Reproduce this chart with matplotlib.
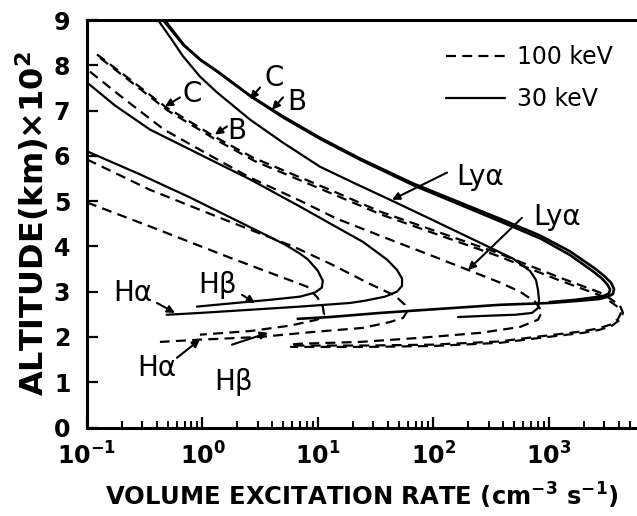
import matplotlib
matplotlib.use("Agg")
import matplotlib.pyplot as plt
from matplotlib.lines import Line2D
from matplotlib.ticker import LogLocator, LogFormatterMathtext, FixedLocator, NullFormatter

plt.rcParams['font.family'] = ['DejaVu Sans']
plt.rcParams['mathtext.default'] = 'regular'

# ---- 30 keV profiles (solid): volume excitation rate (cm^-3 s^-1) vs altitude (x100 km)
c30_rate = [0.455, 0.556, 0.678, 0.951, 1.337, 2.58, 4.98, 10.4, 23.1, 66.5, 169, 377, 836,
            1520, 2502, 2994, 3443, 3654, 3581, 3243, 2766, 1855, 1021, 377, 114, 34.4,
            12.7, 6.71]
c30_alt = [9.0, 8.73, 8.46, 8.13, 7.87, 7.33, 6.87, 6.40, 5.94, 5.39, 4.97, 4.61, 4.24,
           3.89, 3.51, 3.35, 3.20, 3.06, 2.95, 2.89, 2.84, 2.80, 2.75, 2.71, 2.62, 2.53,
           2.44, 2.40]

b30_rate = [0.47, 0.575, 0.70, 0.98, 1.38, 2.66, 5.13, 10.7, 23.8, 68.5, 174, 388, 850,
            1520, 2400, 2850, 3200, 3380, 3300, 3000, 2400, 1700, 1021]
b30_alt = [9.0, 8.71, 8.43, 8.10, 7.84, 7.30, 6.83, 6.36, 5.90, 5.34, 4.91, 4.54, 4.17,
           3.81, 3.45, 3.30, 3.16, 3.05, 2.96, 2.91, 2.87, 2.82, 2.77]

lya30_rate = [0.412, 0.524, 0.678, 0.951, 1.337, 2.58, 4.98, 10.4, 20.9, 42.0, 93.3, 253,
              488, 684, 771, 803, 819, 803, 713, 508, 308, 163]
lya30_alt = [9.0, 8.62, 8.20, 7.75, 7.40, 6.80, 6.29, 5.76, 5.39, 5.03, 4.61, 4.08, 3.73,
             3.46, 3.26, 3.04, 2.82, 2.64, 2.53, 2.49, 2.47, 2.44]

ha30_rate = [0.1, 0.175, 0.351, 0.951, 2.58, 6.98, 14.6, 24.5, 39.5, 48.3, 53.4, 53.4,
             48.3, 38.0, 25.5, 18.9, 6.98, 2.58, 0.95, 0.49]
ha30_alt = [7.62, 7.11, 6.58, 6.03, 5.48, 4.88, 4.42, 4.10, 3.71, 3.48, 3.29, 3.13, 3.00,
            2.89, 2.80, 2.75, 2.67, 2.60, 2.53, 2.49]

hb30_rate = [0.1, 0.288, 0.78, 1.84, 3.48, 5.18, 6.98, 8.19, 9.98, 11.0, 10.8, 9.42, 6.98,
             3.84, 2.58, 0.895]
hb30_alt = [6.10, 5.59, 5.08, 4.61, 4.26, 4.04, 3.84, 3.71, 3.46, 3.24, 3.09, 2.98, 2.89,
            2.82, 2.78, 2.67]

# ---- 100 keV profiles (dashed)
c100_rate = [0.122, 0.235, 0.473, 1.26, 2.74, 13.8, 34.4, 355, 1244, 2766, 3510, 4120,
             4375, 4120, 3510, 2766, 1969, 836, 377, 99, 26.5, 5.73]
c100_alt = [8.24, 7.69, 7.09, 6.43, 5.96, 5.21, 4.77, 3.86, 3.31, 2.98, 2.82, 2.69, 2.53,
            2.38, 2.25, 2.16, 2.09, 1.98, 1.87, 1.80, 1.78, 1.78]

b100_rate = [0.13, 0.25, 0.50, 1.32, 2.85, 14.2, 35.5, 360, 1230, 2700, 3400, 3950, 4180,
             3950, 3380, 2700, 1900, 820, 370, 98, 26, 6.2]
b100_alt = [8.16, 7.60, 7.00, 6.35, 5.88, 5.13, 4.70, 3.79, 3.25, 2.93, 2.78, 2.66, 2.52,
            2.39, 2.27, 2.19, 2.12, 2.01, 1.90, 1.83, 1.81, 1.81]

lya100_rate = [0.106, 0.193, 0.464, 1.16, 2.58, 6.98, 14.6, 42.0, 107, 199, 377, 561, 757,
               871, 803, 561, 253, 76.4, 23.1, 6.98, 5.73]
lya100_alt = [7.86, 7.33, 6.58, 6.01, 5.52, 5.01, 4.61, 4.15, 3.75, 3.48, 3.20, 3.00, 2.78,
              2.56, 2.38, 2.22, 2.09, 1.98, 1.89, 1.85, 1.83]

ha100_rate = [0.1, 0.351, 1.42, 6.2, 12.7, 28.2, 46.5, 56.6, 59, 54.5, 42, 24.5, 9.06,
              3.15, 0.95, 0.428]
ha100_alt = [5.92, 5.25, 4.63, 3.99, 3.62, 3.17, 2.91, 2.71, 2.56, 2.42, 2.33, 2.20, 2.11,
             2.00, 1.94, 1.89]

hb100_rate = [0.1, 0.351, 1.73, 8.04, 9.9, 11.0, 11.3, 9.8, 5.73, 2.58, 0.95]
hb100_alt = [4.97, 4.44, 3.75, 3.11, 2.87, 2.67, 2.49, 2.38, 2.25, 2.13, 2.05]

# ---- axis settings
x_min, x_max = 0.1, 5780
y_min, y_max = 0, 9
x_major = [0.1, 1, 10, 100, 1000]
y_major = [0, 1, 2, 3, 4, 5, 6, 7, 8, 9]

fig = plt.figure(figsize=(6.37, 5.16), dpi=100)
ax = fig.add_axes([87 / 637, 1 - 427.5 / 516, 1 - 87 / 637, (427.5 - 20) / 516])

solid_kw = dict(color='black', lw=1.6, solid_capstyle='round', solid_joinstyle='round')
dash_kw = dict(color='black', lw=1.6, linestyle=(0, (4.5, 2.8)))

ax.plot(c30_rate, c30_alt, color='black', lw=1.9, solid_joinstyle='round')
ax.plot(b30_rate, b30_alt, color='black', lw=1.9, solid_joinstyle='round')
ax.plot(lya30_rate, lya30_alt, **solid_kw)
ax.plot(ha30_rate, ha30_alt, **solid_kw)
ax.plot(hb30_rate, hb30_alt, **solid_kw)

ax.plot(c100_rate, c100_alt, **dash_kw)
ax.plot(b100_rate, b100_alt, **dash_kw)
ax.plot(lya100_rate, lya100_alt, **dash_kw)
ax.plot(ha100_rate, ha100_alt, **dash_kw)
ax.plot(hb100_rate, hb100_alt, **dash_kw)

ax.set_xscale('log')
ax.set_xlim(x_min, x_max)
ax.set_ylim(y_min, y_max)

ax.xaxis.set_major_locator(FixedLocator(x_major))
ax.xaxis.set_major_formatter(LogFormatterMathtext())
ax.xaxis.set_minor_locator(LogLocator(base=10, subs=range(2, 10)))
ax.xaxis.set_minor_formatter(NullFormatter())
ax.yaxis.set_major_locator(FixedLocator(y_major))

ax.tick_params(axis='both', which='major', direction='in', length=8, width=1.6,
               labelsize=17, top=False, right=False)
ax.tick_params(axis='x', which='minor', direction='in', length=5, width=1.4, top=False)
ax.tick_params(axis='x', which='major', pad=11)
ax.tick_params(axis='y', which='major', pad=12)
for lbl in ax.get_xticklabels() + ax.get_yticklabels():
    lbl.set_fontweight('bold')

for side in ('left', 'bottom', 'top'):
    ax.spines[side].set_linewidth(2.2)
ax.spines['right'].set_visible(False)

ax.set_xlabel('VOLUME EXCITATION RATE (cm$^{-3}$ s$^{-1}$)', fontsize=17.5,
              fontweight='bold', labelpad=8)
ax.set_ylabel('ALTITUDE(km)\u00d710$^{2}$', fontsize=23, fontweight='bold', labelpad=2)

# ---- curve labels with arrows
arrow_kw = dict(arrowstyle='-|>', color='black', lw=1.5, mutation_scale=11,
                shrinkA=0, shrinkB=0)
labels = [
    # text, text position, arrow tail, arrow head
    ('C', (4.16, 7.73), (3.15, 7.51), (2.58, 7.25)),
    ('B', (6.58, 7.20), (4.98, 7.29), (4.0, 7.02)),
    ('C', (0.81, 7.36), (0.638, 7.29), (0.473, 7.09)),
    ('B', (1.99, 6.54), (1.63, 6.65), (1.28, 6.47)),
    ('Ly\u03b1', (253, 5.54), (131, 5.63), (43.7, 5.03)),
    ('Ly\u03b1', (1172, 4.66), (583, 4.63), (199, 3.48)),
    ('H\u03b1', (0.25, 2.98), (0.404, 2.75), (0.578, 2.53)),
    ('H\u03b2', (1.36, 3.15), (2.2, 2.93), (2.85, 2.75)),
    ('H\u03b1', (0.404, 1.32), (0.601, 1.54), (0.95, 1.94)),
    ('H\u03b2', (1.84, 1.01), (1.80, 1.83), (3.69, 2.09)),
]
for txt, tpos, tail, head in labels:
    ax.annotate('', xy=head, xytext=tail, arrowprops=arrow_kw)
    ax.text(tpos[0], tpos[1], txt, fontsize=20, ha='center', va='center')

handles = [Line2D([], [], **dash_kw), Line2D([], [], **solid_kw)]
ax.legend(handles, ['100 keV', '30 keV'], loc='upper right', bbox_to_anchor=(0.995, 0.99),
          frameon=False, fontsize=17, handlelength=2.5, handletextpad=0.5,
          labelspacing=0.75)

fig.savefig('out.png', dpi=100)
